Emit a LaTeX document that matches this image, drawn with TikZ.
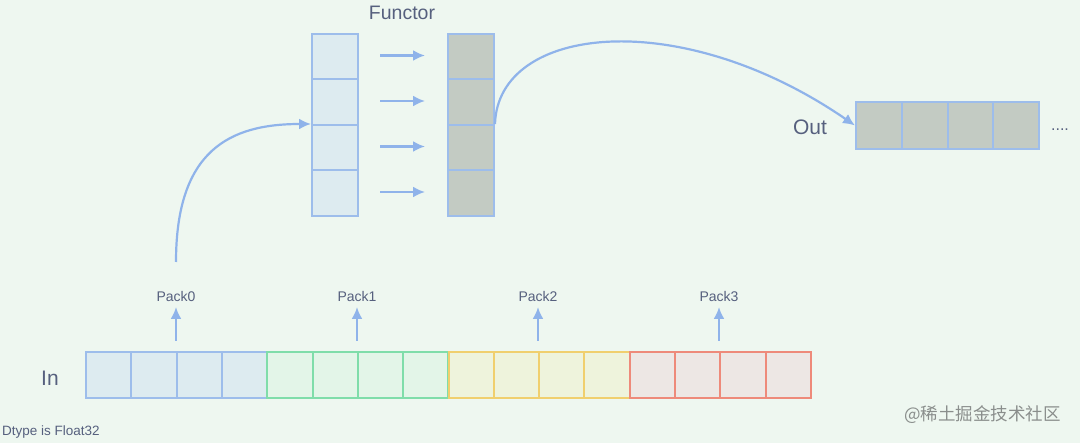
\documentclass[tikz,border=0pt]{standalone}
\usepackage{fontspec}
\setmainfont{Liberation Sans}
\newfontfamily\cjk{Noto Sans CJK SC}
\usetikzlibrary{arrows.meta}
\definecolor{bg}{HTML}{EEF7F0}
\definecolor{bstroke}{HTML}{9DBDEB}
\definecolor{bfill}{HTML}{DDEBF0}
\definecolor{gstroke}{HTML}{80DDAA}
\definecolor{gfill}{HTML}{E3F5E8}
\definecolor{ystroke}{HTML}{F0CF6E}
\definecolor{yfill}{HTML}{EEF3DC}
\definecolor{rstroke}{HTML}{EE8A7A}
\definecolor{rfill}{HTML}{EDE7E4}
\definecolor{dfill}{HTML}{C3CBC3}
\definecolor{arr}{HTML}{8FB3EA}
\definecolor{txt}{HTML}{56607E}
\definecolor{wm}{HTML}{8A8E8C}
\tikzset{
  cell/.style={draw=#1, line width=2pt},
  conn/.style={draw=arr, line width=2.2pt, -{Latex[length=12pt,width=11pt]}},
  lab/.style={text=txt, inner sep=0pt},
}
\begin{document}
\begin{tikzpicture}[x=1pt,y=-1pt]
\fill[bg] (0,0) rectangle (1080,443);
\useasboundingbox (0,0) rectangle (1080,443);

% In row
\foreach \i in {0,...,15}{
  \pgfmathsetmacro{\xa}{85+\i*45.3125}
  \pgfmathsetmacro{\xb}{85+(\i+1)*45.3125}
  \ifnum\i<4 \def\fc{bfill}\else
  \ifnum\i<8 \def\fc{gfill}\else
  \ifnum\i<12 \def\fc{yfill}\else
  \def\fc{rfill}\fi\fi\fi
  \path[fill=\fc] (\xa,351) rectangle (\xb,397);
}
\foreach \i in {0,...,15}{
  \pgfmathsetmacro{\xa}{85+\i*45.3125}
  \ifnum\i<4 \def\sc{bstroke}\else
  \ifnum\i<8 \def\sc{gstroke}\else
  \ifnum\i<12 \def\sc{ystroke}\else
  \def\sc{rstroke}\fi\fi\fi
  \node[cell=\sc, minimum width=45.3pt, minimum height=46pt, inner sep=0pt, anchor=north west] (in\i) at (\xa,351) {};
}
\node[lab, font=\fontsize{21}{24}\selectfont] (inlab) at (50,378) {In};

% Pack arrows
\foreach \k/\x in {0/176,1/357,2/538,3/719}{
  \coordinate (ps\k) at (\x,341);
  \coordinate (pe\k) at (\x,307);
  \draw[conn] (ps\k) -- (pe\k);
  \node[lab, font=\fontsize{14}{16}\selectfont] (pack\k) at (\x,296) {Pack\k};
}

\node[lab, font=\fontsize{13.5}{16}\selectfont, anchor=west] (dtype) at (2,432) {Dtype is Float32};

% Left column
\foreach \j in {0,...,3}{
  \node[cell=bstroke, fill=bfill, minimum width=46pt, minimum height=45.5pt, inner sep=0pt, anchor=north west] (L\j) at (311,{33+\j*45.5}) {};
}
% Right column
\foreach \j in {0,...,3}{
  \node[cell=bstroke, fill=dfill, minimum width=46pt, minimum height=45.5pt, inner sep=0pt, anchor=north west] (R\j) at (447,{33+\j*45.5}) {};
}
% Functor arrows
\foreach \j in {0,...,3}{
  \coordinate (fa\j) at (380,{55.5+\j*45.5});
  \coordinate (fb\j) at (425,{55.5+\j*45.5});
  \draw[conn] (fa\j) -- (fb\j);
}
\node[lab, font=\fontsize{19.5}{22}\selectfont] (functor) at (402,13) {Functor};

% Out row
\foreach \j in {0,...,3}{
  \node[cell=bstroke, fill=dfill, minimum width=45.75pt, minimum height=47pt, inner sep=0pt, anchor=north west] (O\j) at ({855+\j*45.75},101) {};
}
\node[lab, font=\fontsize{21}{24}\selectfont] (outlab) at (810,127) {Out};
\node[lab, font=\fontsize{16}{18}\selectfont] (dots) at (1060,130) {....};

% Curved connectors
\coordinate (c0) at (176,262);
\draw[conn] (c0) .. controls (176,150) and (230,124) .. (L2.north west);
\draw[conn] (R2.north east) .. controls (498,25) and (680,5) .. (O0.west);

% watermark
\node[text=wm, inner sep=0pt, anchor=west, font=\cjk\fontsize{17.5}{20}\selectfont] (wm) at (904,415) {@稀土掘金技术社区};
\end{tikzpicture}
\end{document}
